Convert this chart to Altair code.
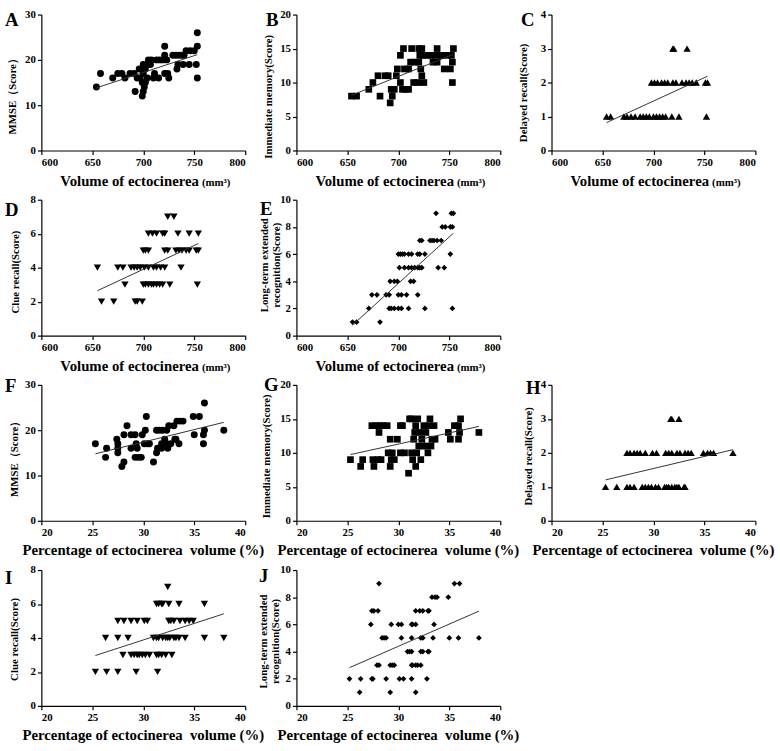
import altair as alt
import pandas as pd

W, H = 207, 138
FONT = "Liberation Serif"

# ---------------- data ----------------
A_x = [654,658,670,675,679,682,687,691,692,694,696,697,699,700,700,700,700,699,701,702,
       702,704,704,705,707,708,710,711,713,715,716,719,721,721,721,723,724,725,729,732,
       733,734,735,738,739,740,742,745,746,750,752,753,753,753]
A_y = [14,17,16,17,17,16,17,17,13,16,18,16,15,18,19,17,13,12,14,15,
       18,16,19,20,19,20,16,17,20,16,20,20,23,21,17,20,17,16,21,21,
       18,19,21,21,19,21,22,19,22,22,19,23,26,16]

B_x = [654,659,671,675,680,682,687,690,692,693,694,696,698,699,702,702,704,705,706,707,
       710,710,712,713,715,716,719,720,720,721,722,723,723,724,725,728,732,734,736,738,
       738,741,743,745,748,751,752,753,753,754]
B_y = [8,8,9,10,11,8,11,11,7,9,8,9,11,12,10,14,9,15,12,9,
       12,9,13,15,10,13,10,15,13,14,12,15,11,14,10,14,14,13,14,15,
       13,14,14,12,14,12,14,13,10,15]

C_x = [654,658,671,674,678,682,687,690,693,696,700,703,706,709,712,718,725,752,
       698,701,704,708,711,714,719,722,728,732,735,738,742,751,753,
       719,720,733]
C_y = [1,1,1,1,1,1,1,1,1,1,1,1,1,1,1,1,1,1,
       2,2,2,2,2,2,2,2,2,2,2,2,2,2,2,
       3,3,3]

D_x = [724,730,
       705,709,713,719,721,734,745,754,
       700,702,705,721,724,732,735,738,742,745,752,754,
       655,675,680,688,691,694,697,701,705,710,713,717,721,737,
       682,700,702,705,708,710,713,716,719,726,753,
       659,671,692,694,699]
D_y = [7,7,
       6,6,6,6,6,6,6,6,
       5,5,5,5,5,5,5,5,5,5,5,5,
       4,4,4,4,4,4,4,4,4,4,4,4,4,4,
       3,3,3,3,3,3,3,3,3,3,3,
       2,2,2,2,2]

E_x = [737,752,754,
       743,746,751,753,
       721,723,731,733,735,738,742,
       700,702,704,706,710,713,719,721,726,751,
       701,706,710,713,716,719,721,723,739,745,
       692,696,699,712,715,
       674,679,688,691,700,703,708,719,
       671,691,693,696,700,703,710,726,753,
       655,659,682]
E_y = [9,9,9,
       8,8,8,8,
       7,7,7,7,7,7,7,
       6,6,6,6,6,6,6,6,6,6,
       5,5,5,5,5,5,5,5,5,5,
       4,4,4,4,4,
       3,3,3,3,3,3,3,3,
       2,2,2,2,2,2,2,2,2,
       1,1,1]

F_x = [25.3,26.3,26.4,27.4,27.5,27.5,27.5,27.9,28.1,28.1,28.4,28.8,28.8,29.2,29.2,29.3,29.4,29.5,29.8,29.9,
       30.1,30.2,30.3,30.4,30.6,31.0,31.3,31.3,31.4,31.6,31.8,31.8,31.9,32.1,32.3,32.3,32.4,32.5,32.7,33.0,
       33.1,33.2,33.3,33.5,33.6,33.9,34.9,35.0,35.5,35.9,35.9,36.0,36.0,37.9]
F_y = [17,14,16,18,17,16,15,12,13,19,21,19,16,19,14,17,16,14,14,19,
       17,20,23,17,17,13,15,20,16,20,17,16,20,18,17,20,16,21,17,21,
       18,18,22,17,22,22,23,19,23,17,19,20,26,20]

G_x = [25.3,26.3,26.5,27.4,27.5,27.6,27.8,28.0,28.2,28.3,28.1,28.5,28.9,29.0,29.2,29.2,29.3,29.4,29.6,29.9,
       30.2,30.4,30.2,30.6,31.1,31.3,31.3,31.4,31.5,31.6,31.7,31.8,31.7,31.0,31.9,32.0,32.1,32.3,32.2,32.4,
       32.5,32.7,32.8,32.9,33.0,33.1,33.2,33.3,33.5,33.6,34.9,35.1,35.5,35.9,35.9,36.0,36.1,37.9]
G_y = [9,8,9,14,9,8,14,9,14,9,13,14,14,10,12,8,9,10,9,12,
       14,14,10,10,15,15,10,9,12,13,14,10,8,7,15,11,13,12,9,11,
       14,13,11,10,14,15,11,12,14,12,13,12,14,14,12,13,15,13]

H_x = [31.7,31.8,32.5,
       27.4,27.7,28.1,28.4,28.7,29.2,29.9,30.3,31.2,31.5,31.8,32.3,32.6,33.1,33.4,33.7,34.9,35.3,35.6,35.9,37.8,
       25.3,26.4,27.4,27.7,28.1,28.9,29.2,29.5,29.8,30.2,30.5,31.1,31.3,31.5,31.8,32.1,32.3,32.5,33.0,33.1]
H_y = [3,3,3,
       2,2,2,2,2,2,2,2,2,2,2,2,2,2,2,2,2,2,2,2,2,
       1,1,1,1,1,1,1,1,1,1,1,1,1,1,1,1,1,1,1,1]

I_x = [32.4,
       31.3,31.5,31.8,31.9,32.5,33.5,36.0,
       27.5,28.1,28.8,29.4,30.1,30.4,32.5,32.7,33.0,33.6,34.1,34.5,34.9,
       26.3,27.5,28.5,31.0,31.3,31.5,31.9,32.2,32.4,32.6,33.0,33.2,33.5,34.1,36.0,37.9,
       28.0,28.8,29.1,29.4,29.6,29.9,30.2,30.6,31.3,31.5,31.8,32.2,32.8,
       25.3,26.4,27.5,29.3,31.4]
I_y = [7,
       6,6,6,6,6,6,6,
       5,5,5,5,5,5,5,5,5,5,5,5,5,
       4,4,4,4,4,4,4,4,4,4,4,4,4,4,4,4,
       3,3,3,3,3,3,3,3,3,3,3,3,3,
       2,2,2,2,2]

J_x = [28.1,35.5,36.0,
       33.3,33.6,33.8,34.9,
       27.4,27.6,28.0,31.7,32.1,32.4,32.9,33.0,
       27.3,29.3,30.0,30.3,31.3,31.4,31.7,33.5,
       28.4,28.6,28.8,30.3,31.3,32.2,32.4,33.4,35.0,35.9,37.9,
       30.9,31.1,31.3,32.2,32.4,32.9,33.0,
       27.9,28.1,29.2,29.4,29.6,31.3,31.4,31.7,31.9,32.2,
       25.2,26.3,27.4,27.5,28.8,30.1,30.5,31.3,32.8,
       26.2,29.2,31.7]
J_y = [9,9,9,
       8,8,8,8,
       7,7,7,7,7,7,7,7,
       6,6,6,6,6,6,6,6,
       5,5,5,5,5,5,5,5,5,5,5,
       4,4,4,4,4,4,4,
       3,3,3,3,3,3,3,3,3,3,
       2,2,2,2,2,2,2,2,2,
       1,1,1]

VOL_TICKS = [600, 650, 700, 750, 800]
PCT_TICKS = [20, 25, 30, 35, 40]

AXIS_STYLE = dict(
    grid=False, domainColor="black", tickColor="black", labelColor="black",
    labelFont=FONT, labelFontWeight="bold", labelFontSize=11, tickSize=4,
    labelPadding=2, domainWidth=1.2, tickWidth=1.2, labelOverlap=False,
)


def txt(s, x, y, size, align="left"):
    return alt.Chart(pd.DataFrame({"t": [s]})).mark_text(
        font=FONT, fontSize=size, fontWeight="bold", align=align,
        baseline="alphabetic", color="black"
    ).encode(text="t:N", x=alt.value(x), y=alt.value(y))


def panel(xv, yv, shape, size, letter, lx, ly, vol, ydom, yticks, ytitle, ytx, yty):
    df = pd.DataFrame({"x": xv, "y": yv})
    xdom = [600, 800] if vol else [20, 40]
    xticks = VOL_TICKS if vol else PCT_TICKS
    xenc = alt.X("x:Q", scale=alt.Scale(domain=xdom, nice=False, zero=False),
                 axis=alt.Axis(values=xticks, title=None, **AXIS_STYLE))
    yenc = alt.Y("y:Q", scale=alt.Scale(domain=ydom, nice=False),
                 axis=alt.Axis(values=yticks, title=ytitle, titleX=ytx, titleY=yty,
                               titleAngle=270, titleAlign="center", titleBaseline="middle",
                               titleFont=FONT, titleFontSize=11, titleFontWeight="bold",
                               titleColor="black", titleLineHeight=12, **AXIS_STYLE))
    base = alt.Chart(df)
    pts = base.mark_point(shape=shape, filled=True, size=size, color="black",
                          opacity=1).encode(x=xenc, y=yenc)
    line = base.transform_regression("x", "y").mark_line(
        color="#333333", strokeWidth=1).encode(x=xenc, y=yenc)
    layers = [pts, line, txt(letter, lx, ly, 19)]
    if vol:
        layers.append(txt("Volume of ectocinerea", 160, H + 36, 15, "right"))
        layers.append(txt("(mm³)", 163, H + 36, 11, "left"))
    else:
        layers.append(txt("Percentage of ectocinerea\u00a0 volume (%)", W / 2, H + 35, 15, "center"))
    return alt.layer(*layers).properties(width=W, height=H)


def empty():
    return alt.Chart(pd.DataFrame({"a": [0]})).mark_point(opacity=0).encode(
        x=alt.X("a:Q", axis=None), y=alt.Y("a:Q", axis=None)
    ).properties(width=W, height=H)


pA = panel(A_x, A_y, "circle", 50, "A", -37, 12, True, [0, 30], [0, 10, 20, 30], "MMSE（Score）", -29, 80)
pB = panel(B_x, B_y, "square", 46, "B", -31, 12, True, [0, 20], [0, 5, 10, 15, 20], "Immediate memory(Score)", -28, 83)
pC = panel(C_x, C_y, "triangle-up", 55, "C", -31, 12, True, [0, 4], [0, 1, 2, 3, 4], "Delayed recall(Score)", -28, 79)
pD = panel(D_x, D_y, "triangle-down", 55, "D", -37, 17, True, [0, 8], [0, 2, 4, 6, 8], "Clue recall(Score)", -26, 73)
pE = panel(E_x, E_y, "diamond", 34, "E", -37, 16, True, [0, 10], [0, 2, 4, 6, 8, 10],
           ["Long-term extended", "recognition(Score)"], -32, 66)
pF = panel(F_x, F_y, "circle", 50, "F", -37, 7, False, [0, 30], [0, 10, 20, 30], "MMSE（Score）", -27, 72)
pG = panel(G_x, G_y, "square", 46, "G", -33, 6, False, [0, 20], [0, 5, 10, 15, 20], "Immediate memory(Score)", -30, 72)
pH = panel(H_x, H_y, "triangle-up", 55, "H", -26, 9, False, [0, 4], [0, 1, 2, 3, 4], "Delayed recall(Score)", -23, 72)
pI = panel(I_x, I_y, "triangle-down", 55, "I", -37, 14, False, [0, 8], [0, 2, 4, 6, 8], "Clue recall(Score)", -27, 70)
pJ = panel(J_x, J_y, "diamond", 34, "J", -38, 12, False, [0, 10], [0, 2, 4, 6, 8, 10],
           ["Long-term extended", "recognition(Score)"], -33, 72)

chart = alt.concat(
    pA, pB, pC, pD, pE, empty(), pF, pG, pH, pI, pJ, empty(),
    columns=3, spacing={"row": 50, "column": 52}, bounds="flush"
).properties(
    padding={"left": 5, "top": 3, "right": 5, "bottom": 5},
    background="white",
).configure_view(strokeWidth=0)

chart.save("out.html", embed_options={"renderer": "svg", "actions": False})
